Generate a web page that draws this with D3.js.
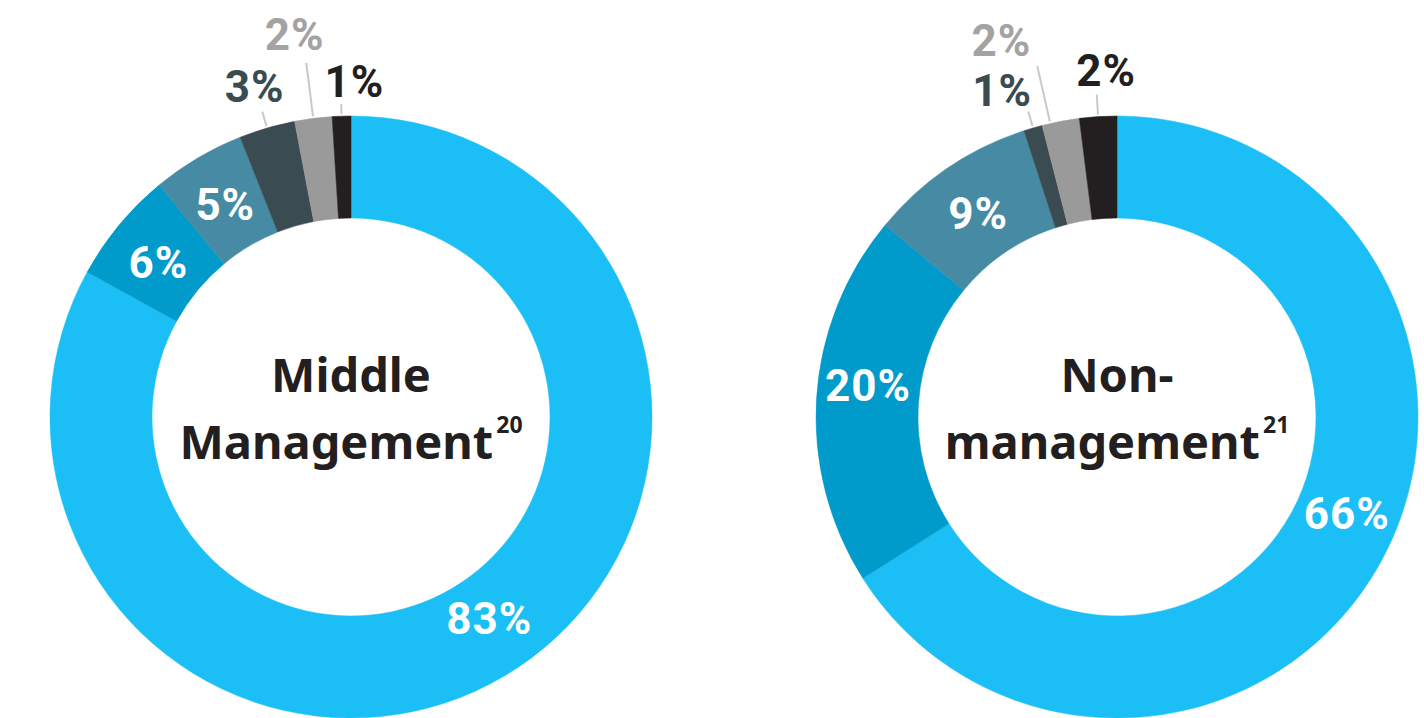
<!DOCTYPE html>
<html>
<head>
<meta charset="utf-8">
<script src="https://cdn.jsdelivr.net/npm/d3@7"></script>
<style>
   body { margin: 0; background: #fff; }
   svg { display: block; }
</style>
</head>
<body>
<div id="chart"></div>
<script>

// CHART DATA
var groups = [['Middle', 'Management'], ['Non-', 'management']];
var footnotes = ['20', '21'];
var segments = ['s1', 's2', 's3', 's4', 's5', 's6'];
var middleValues = [83, 6, 5, 3, 2, 1];
var nonValues = [66, 20, 9, 1, 2, 2];

// SEGMENT COLOURS
var colors = ['#1bbff6', '#009bcb', '#468ba3', '#3a4b51', '#9a9a9a', '#231f20'];
var outerColors = ['#fff', '#fff', '#fff', '#3a4b51', '#a3a3a3', '#231f20'];

// LABEL PLACEMENT (r = text radius, da = angle nudge, dx = x nudge, line = leader radii)
var layouts = [
   [
      { r: 244, da: -3.9 },
      { r: 247, da: -0.8 },
      { r: 247, da: 0 },
      { r: 345, da: 0, dx: 0, line: [303, 318] },
      { r: 386, da: 0, dx: -8, line: [303, 357] },
      { r: 336, da: 0, dx: 14, line: [303, 313] }
   ],
   [
      { r: 249, da: -6.1 },
      { r: 251, da: 3.7 },
      { r: 247, da: 0 },
      { r: 340, da: 0, dx: -20, line: [303, 318] },
      { r: 386, da: -2, dx: -30, line: [303, 360] },
      { r: 348, da: 0, dx: 11, line: [303, 323] }
   ]
];

var settings = {
   width: 1424,
   height: 718,
   centers: [[351, 417], [1117, 417]],
   inner: 199,
   outer: 301
};

var svg = d3.select('#chart').append('svg')
   .attr('width', settings.width)
   .attr('height', settings.height);

// PIE + ARC GENERATORS
var pie = d3.pie().sort(null).value(d => d);
var arc = d3.arc().innerRadius(settings.inner).outerRadius(settings.outer);

// POINT ON A RAY FROM THE CENTRE (ANGLE CLOCKWISE FROM 12 O'CLOCK)
function polar(a, r) { return [r * Math.sin(a), -r * Math.cos(a)]; }

[middleValues, nonValues].forEach((values, gi) => {

   var g = svg.append('g')
      .attr('transform', 'translate(' + settings.centers[gi] + ')');

   var arcs = pie(values);

   // SLICES
   g.selectAll('path')
      .data(arcs)
      .enter().append('path')
         .attr('d', arc)
         .attr('fill', (d, i) => colors[i])
         .attr('stroke', (d, i) => colors[i])
         .attr('stroke-width', 0.5);

   // LEADER LINES FOR SMALL SLICES
   arcs.forEach((d, i) => {
      var lay = layouts[gi][i];
      if (!lay.line) return;
      var a = (d.startAngle + d.endAngle) / 2 + lay.da * Math.PI / 180;
      var p0 = polar(a, lay.line[0]), p1 = polar(a, lay.line[1]);
      g.append('line')
         .attr('x1', p0[0]).attr('y1', p0[1])
         .attr('x2', p1[0]).attr('y2', p1[1])
         .attr('stroke', '#c9c9c9')
         .attr('stroke-width', 2);
   });

   // PERCENT LABELS
   g.selectAll('text.pct')
      .data(arcs)
      .enter().append('text')
         .attr('class', 'pct')
         .attr('transform', (d, i) => {
            var lay = layouts[gi][i];
            var a = (d.startAngle + d.endAngle) / 2 + lay.da * Math.PI / 180;
            var p = polar(a, lay.r);
            return 'translate(' + (p[0] + (lay.dx || 0)) + ',' + p[1] + ')';
         })
         .attr('text-anchor', 'middle')
         .attr('dy', '0.36em')
         .attr('font-family', 'Roboto, sans-serif')
         .attr('font-weight', 700)
         .attr('font-size', 44)
         .attr('letter-spacing', 1)
         .attr('fill', (d, i) => outerColors[i])
         .text(d => d.data + '%');

   // CENTRE TITLE
   var title = g.append('text')
      .attr('text-anchor', 'middle')
      .attr('font-family', '"Noto Sans", sans-serif')
      .attr('font-weight', 700)
      .attr('font-size', 47)
      .attr('fill', '#231f20');

   title.append('tspan')
      .attr('x', 0).attr('y', -25)
      .text(groups[gi][0]);

   title.append('tspan')
      .attr('x', 0).attr('y', 42)
      .text(groups[gi][1]);

   title.append('tspan')
      .attr('font-size', 23)
      .attr('dx', 3)
      .attr('dy', -26)
      .text(footnotes[gi]);
});

</script>
</body>
</html>
